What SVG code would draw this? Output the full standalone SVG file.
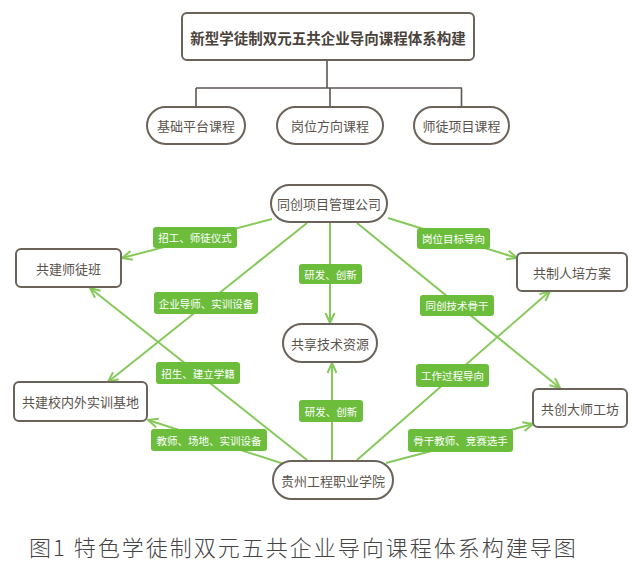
<svg xmlns="http://www.w3.org/2000/svg" width="640" height="568" viewBox="0 0 640 568">
<style>
.bg{fill:#ffffff}
.node{fill:#ffffff;stroke:#6b625a;stroke-width:2}
.tree{fill:none;stroke:#5e5750;stroke-width:1.6}
.conn{fill:none;stroke:#86c95a;stroke-width:2;marker-end:url(#arr)}
.lab{fill:#6cbd3c}
.t{font-family:"Noto Sans CJK SC","Noto Sans",sans-serif;font-size:13px;fill:#5a534c;text-anchor:middle;dominant-baseline:central}
.title{font-family:"Noto Sans CJK SC","Noto Sans",sans-serif;font-size:14.5px;font-weight:bold;fill:#4a423b;text-anchor:middle;dominant-baseline:central}
.lt{font-family:"Noto Sans CJK SC","Noto Sans",sans-serif;font-size:10.5px;fill:#ffffff;text-anchor:middle;dominant-baseline:central}
.cap{font-family:"Noto Sans CJK SC","Noto Sans",sans-serif;font-size:22px;font-weight:300;fill:#444444;letter-spacing:2px}
</style>
<defs>
<marker id="arr" viewBox="0 0 12 12" refX="11" refY="6" markerWidth="12" markerHeight="12" markerUnits="userSpaceOnUse" orient="auto">
<path d="M1,1.5 L11,6 L1,10.5" fill="none" stroke="#86c95a" stroke-width="2"/>
</marker>
</defs>
<rect class="bg" x="0" y="0" width="640" height="568"/>

<g id="tree">
<path class="tree" d="M327,60 V88 M196,88 H462 M196,88 V107 M330,88 V107 M461.5,88 V107"/>
</g>

<g id="connectors">
<line class="conn" x1="272" y1="219" x2="122" y2="258"/>
<line class="conn" x1="307" y1="223" x2="108" y2="382"/>
<line class="conn" x1="330" y1="223" x2="330" y2="323"/>
<line class="conn" x1="388" y1="218" x2="517" y2="258"/>
<line class="conn" x1="357" y1="223" x2="560" y2="388"/>
<line class="conn" x1="307" y1="460" x2="90" y2="288"/>
<line class="conn" x1="284" y1="464" x2="148" y2="420"/>
<line class="conn" x1="332" y1="461" x2="332" y2="363"/>
<line class="conn" x1="357" y1="460" x2="550" y2="291"/>
<line class="conn" x1="386" y1="463" x2="533" y2="424"/>
</g>

<g id="labels">
<g id="l1"><rect class="lab" x="153" y="227" width="84" height="21" rx="3"/><text class="lt" x="195" y="237.5">招工、师徒仪式</text></g>
<g id="l2"><rect class="lab" x="154" y="292" width="104" height="22" rx="3"/><text class="lt" x="206" y="303">企业导师、实训设备</text></g>
<g id="l3"><rect class="lab" x="299" y="264" width="63" height="20" rx="3"/><text class="lt" x="330.5" y="274">研发、创新</text></g>
<g id="l4"><rect class="lab" x="417" y="228" width="73" height="21" rx="3"/><text class="lt" x="453.5" y="238.5">岗位目标导向</text></g>
<g id="l5"><rect class="lab" x="420" y="295" width="74" height="21" rx="3"/><text class="lt" x="457" y="305.5">同创技术骨干</text></g>
<g id="l6"><rect class="lab" x="156" y="362" width="84" height="22" rx="3"/><text class="lt" x="198" y="373">招生、建立学籍</text></g>
<g id="l7"><rect class="lab" x="151" y="429" width="116" height="22" rx="3"/><text class="lt" x="209" y="440">教师、场地、实训设备</text></g>
<g id="l8"><rect class="lab" x="299" y="400" width="64" height="22" rx="3"/><text class="lt" x="331" y="411">研发、创新</text></g>
<g id="l9"><rect class="lab" x="416" y="364" width="73" height="23" rx="3"/><text class="lt" x="452.5" y="375.5">工作过程导向</text></g>
<g id="l10"><rect class="lab" x="408" y="429" width="105" height="23" rx="3"/><text class="lt" x="460.5" y="440.5">骨干教师、竞赛选手</text></g>
</g>

<g id="n-root"><rect class="node" x="182" y="13" width="292" height="47" rx="5"/><text class="title" x="328" y="37">新型学徒制双元五共企业导向课程体系构建</text></g>
<g id="n-jichu"><rect class="node" x="147" y="107" width="98" height="37" rx="18.5"/><text class="t" x="196" y="125.5">基础平台课程</text></g>
<g id="n-gangwei"><rect class="node" x="277" y="107" width="106" height="37" rx="18.5"/><text class="t" x="330" y="125.5">岗位方向课程</text></g>
<g id="n-shitu"><rect class="node" x="414" y="107" width="95" height="37" rx="18.5"/><text class="t" x="461.5" y="125.5">师徒项目课程</text></g>

<g id="n-tongchuang"><rect class="node" x="271" y="185" width="116" height="37" rx="18.5"/><text class="t" x="329" y="203.5">同创项目管理公司</text></g>
<g id="n-gongxiang"><rect class="node" x="283" y="324" width="94" height="38" rx="19"/><text class="t" x="330" y="343">共享技术资源</text></g>
<g id="n-guizhou"><rect class="node" x="273" y="461" width="120" height="38" rx="19"/><text class="t" x="333" y="480">贵州工程职业学院</text></g>
<g id="n-shituban"><rect class="node" x="16" y="249" width="105" height="38" rx="5"/><text class="t" x="68.5" y="268">共建师徒班</text></g>
<g id="n-jidi"><rect class="node" x="14" y="382" width="133" height="39" rx="5"/><text class="t" x="80.5" y="401.5">共建校内外实训基地</text></g>
<g id="n-renpei"><rect class="node" x="517" y="253" width="110" height="38" rx="5"/><text class="t" x="572" y="272">共制人培方案</text></g>
<g id="n-dashi"><rect class="node" x="533" y="389" width="94" height="38" rx="5"/><text class="t" x="580" y="408">共创大师工坊</text></g>

<text class="cap" x="29" y="556">图1 特色学徒制双元五共企业导向课程体系构建导图</text>
</svg>
